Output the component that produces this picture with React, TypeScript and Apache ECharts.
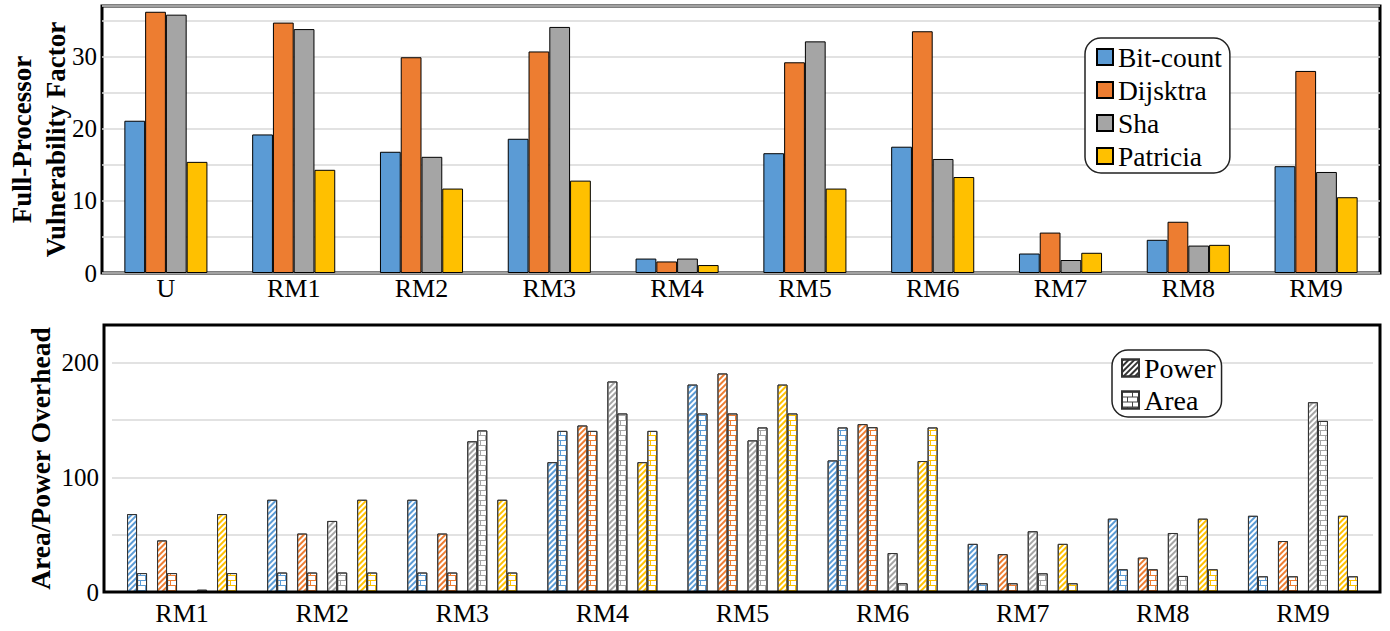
import React, { useEffect, useRef } from "react";
import * as echarts from "echarts";

// ---------- data ----------
const topCategories = ["U", "RM1", "RM2", "RM3", "RM4", "RM5", "RM6", "RM7", "RM8", "RM9"];
const bitCount = [21.1, 19.2, 16.8, 18.6, 2.0, 16.6, 17.5, 2.7, 4.6, 14.8];
const dijsktra = [36.2, 34.7, 29.9, 30.7, 1.6, 29.2, 33.5, 5.6, 7.1, 28.0];
const sha = [35.8, 33.8, 16.1, 34.1, 2.0, 32.1, 15.8, 1.8, 3.8, 14.0];
const patricia = [15.4, 14.3, 11.7, 12.8, 1.1, 11.7, 13.3, 2.8, 3.9, 10.5];

const bottomCategories = ["RM1", "RM2", "RM3", "RM4", "RM5", "RM6", "RM7", "RM8", "RM9"];
const bitPower = [68, 80.5, 80.5, 113.3, 181, 114.8, 42, 64, 66.5];
const bitArea = [16.5, 17, 17, 140.6, 155.8, 143.6, 7.6, 19.8, 13.7];
const dijPower = [45, 51, 51, 145.3, 190.7, 146.5, 33, 30, 44.5];
const dijArea = [16.5, 17, 17, 140.6, 155.8, 143.8, 7.6, 19.8, 13.7];
const shaPower = [0, 62, 131.5, 183.7, 132.3, 34, 53, 51.5, 165.6];
const shaArea = [2, 17, 141, 155.8, 143.6, 7.6, 16.3, 14, 149.3];
const patPower = [68, 80.5, 80.5, 113.3, 181, 114.3, 42, 64, 66.5];
const patArea = [16.5, 17, 17, 140.6, 155.8, 143.6, 7.6, 19.8, 13.7];

const benchNames = ["Bit-count", "Dijsktra", "Sha", "Patricia"];
const overheadNames = ["Power", "Area"];

// ---------- styles ----------
const BLUE = "#5B9BD5";
const ORANGE = "#ED7D31";
const GRAY = "#A5A5A5";
const YELLOW = "#FFC000";
const FONT = "Liberation Serif";

const hatch = (color: string) => ({
  symbol: "rect",
  symbolSize: 1,
  color,
  dashArrayX: [1, 0],
  dashArrayY: [2, 2],
  rotation: -Math.PI / 4,
});
const brick = (color: string) => ({
  symbol: "rect",
  symbolSize: 1,
  color,
  dashArrayX: [[10, 0], [1, 9], [10, 0], [0, 5, 1, 4]],
  dashArrayY: [1, 0, 4, 0, 1, 0, 4, 0],
});

export default function App() {
  const ref = useRef<HTMLDivElement>(null);
  useEffect(() => {
    if (!ref.current) return;
    const chart = echarts.init(ref.current, null, { renderer: "svg" });

    const topDefs: [string, number[], string][] = [
      [benchNames[0], bitCount, BLUE],
      [benchNames[1], dijsktra, ORANGE],
      [benchNames[2], sha, GRAY],
      [benchNames[3], patricia, YELLOW],
    ];
    const topSeries = topDefs.map(([name, data, color]) => ({
      type: "bar",
      name,
      data,
      xAxisIndex: 0,
      yAxisIndex: 0,
      barGap: "0%",
      barCategoryGap: "35%",
      itemStyle: { color, borderColor: "#000", borderWidth: 1 },
    }));

    const pairDefs: [string, number[], number[], string][] = [
      [benchNames[0], bitPower, bitArea, BLUE],
      [benchNames[1], dijPower, dijArea, ORANGE],
      [benchNames[2], shaPower, shaArea, GRAY],
      [benchNames[3], patPower, patArea, YELLOW],
    ];
    const bottomSeries: any[] = [];
    pairDefs.forEach(([name, pw, ar, color], i) => {
      bottomSeries.push({
        type: "bar",
        name: name + " Power",
        data: pw,
        xAxisIndex: 1,
        yAxisIndex: 1,
        barWidth: 10,
        barGap: "0%",
        itemStyle: { color: "#fff", borderColor: "#333", borderWidth: 1, decal: hatch(color) },
      });
      bottomSeries.push({
        type: "bar",
        name: name + " Area",
        data: ar,
        xAxisIndex: 1,
        yAxisIndex: 1,
        barWidth: 10,
        barGap: "0%",
        itemStyle: { color: "#fff", borderColor: "#333", borderWidth: 1, decal: brick(color) },
      });
      if (i < pairDefs.length - 1) {
        bottomSeries.push({
          type: "bar",
          name: "spacer" + i,
          data: bottomCategories.map(() => "-"),
          xAxisIndex: 1,
          yAxisIndex: 1,
          barWidth: 10,
          barGap: "0%",
          silent: true,
        });
      }
    });

    const legendSeries = [
      {
        type: "bar",
        name: overheadNames[0],
        data: [],
        xAxisIndex: 2,
        yAxisIndex: 2,
        itemStyle: { color: "#fff", borderColor: "#333", borderWidth: 1, decal: hatch("#333") },
      },
      {
        type: "bar",
        name: overheadNames[1],
        data: [],
        xAxisIndex: 2,
        yAxisIndex: 2,
        itemStyle: { color: "#fff", borderColor: "#333", borderWidth: 1, decal: brick("#444") },
      },
    ];

    const labelStyle = { fontFamily: FONT, color: "#000" };
    const splitLine = { show: true, lineStyle: { color: "#d9d9d9", width: 1.5 } };

    chart.setOption({
      animation: false,
      backgroundColor: "#fff",
      textStyle: { fontFamily: FONT },
      grid: [
        {
          left: 102, right: 10, top: 6, height: 267,
          show: true, borderColor: "#000", borderWidth: 3, backgroundColor: "transparent",
          containLabel: false, outerBoundsMode: "none",
        },
        { left: 112, right: 17, top: 325, height: 267, containLabel: false, outerBoundsMode: "none" },
        { left: 0, top: 0, width: 1, height: 1, containLabel: false, outerBoundsMode: "none" },
      ],
      xAxis: [
        {
          type: "category",
          gridIndex: 0,
          data: topCategories,
          axisLine: { show: false },
          axisTick: { show: false },
          axisLabel: { ...labelStyle, fontSize: 26, margin: 2 },
        },
        {
          type: "category",
          gridIndex: 1,
          data: bottomCategories,
          axisLine: { show: false },
          axisTick: { show: false },
          axisLabel: { ...labelStyle, fontSize: 26, margin: 8 },
        },
        { type: "category", gridIndex: 2, show: false, data: [] },
      ],
      yAxis: [
        {
          type: "value",
          gridIndex: 0,
          min: 0,
          max: 37,
          interval: 5,
          axisLine: { show: false },
          axisTick: { show: false },
          splitLine,
          axisLabel: {
            ...labelStyle,
            fontSize: 25,
            margin: 5,
            showMaxLabel: false,
            formatter: (v: number) => (v % 10 === 0 ? String(v) : ""),
          },
          name: "Full-Processor\nVulnerability Factor",
          nameLocation: "middle",
          nameGap: 29,
          nameMoveOverlap: false,
          nameTextStyle: { fontFamily: FONT, fontSize: 27, fontWeight: "bold", color: "#000", lineHeight: 34 },
        },
        {
          type: "value",
          gridIndex: 1,
          min: 0,
          max: 233,
          interval: 50,
          axisLine: { show: false },
          axisTick: { show: false },
          splitLine,
          axisLabel: {
            ...labelStyle,
            fontSize: 25,
            margin: 13,
            showMaxLabel: false,
            formatter: (v: number) => (v % 100 === 0 ? String(v) : ""),
          },
          name: "Area/Power Overhead",
          nameLocation: "middle",
          nameGap: 55,
          nameMoveOverlap: false,
          nameTextStyle: { fontFamily: FONT, fontSize: 27.5, fontWeight: "bold", color: "#000", lineHeight: 33 },
        },
        { type: "value", gridIndex: 2, show: false },
      ],
      legend: [
        {
          data: benchNames,
          orient: "vertical",
          left: 1085,
          top: 38,
          itemWidth: 16,
          itemHeight: 16,
          itemGap: 3,
          icon: "rect",
          padding: [4, 8, 2, 11],
          borderColor: "#222",
          borderWidth: 1.5,
          borderRadius: 16,
          backgroundColor: "#fff",
          textStyle: { fontFamily: FONT, fontSize: 27.5, color: "#000", lineHeight: 30 },
        },
        {
          data: overheadNames,
          orient: "vertical",
          left: 1112,
          top: 350,
          itemWidth: 17,
          itemHeight: 17,
          itemGap: 2,
          icon: "rect",
          padding: [3, 6, 2, 9],
          borderColor: "#222",
          borderWidth: 1.5,
          borderRadius: 16,
          backgroundColor: "#fff",
          textStyle: { fontFamily: FONT, fontSize: 28, color: "#000", lineHeight: 30 },
        },
      ],
      graphic: [
        {
          type: "rect",
          z: 100,
          silent: true,
          shape: { x: 104, y: 325, width: 1276, height: 267 },
          style: { fill: "none", stroke: "#000", lineWidth: 3 },
        },
      ],
      series: [...topSeries, ...bottomSeries, ...legendSeries],
    });

    return () => chart.dispose();
  }, []);

  return (
    <div
      ref={ref}
      style={{ position: "absolute", left: 0, top: 0, width: 1390, height: 631, background: "#fff" }}
    />
  );
}
